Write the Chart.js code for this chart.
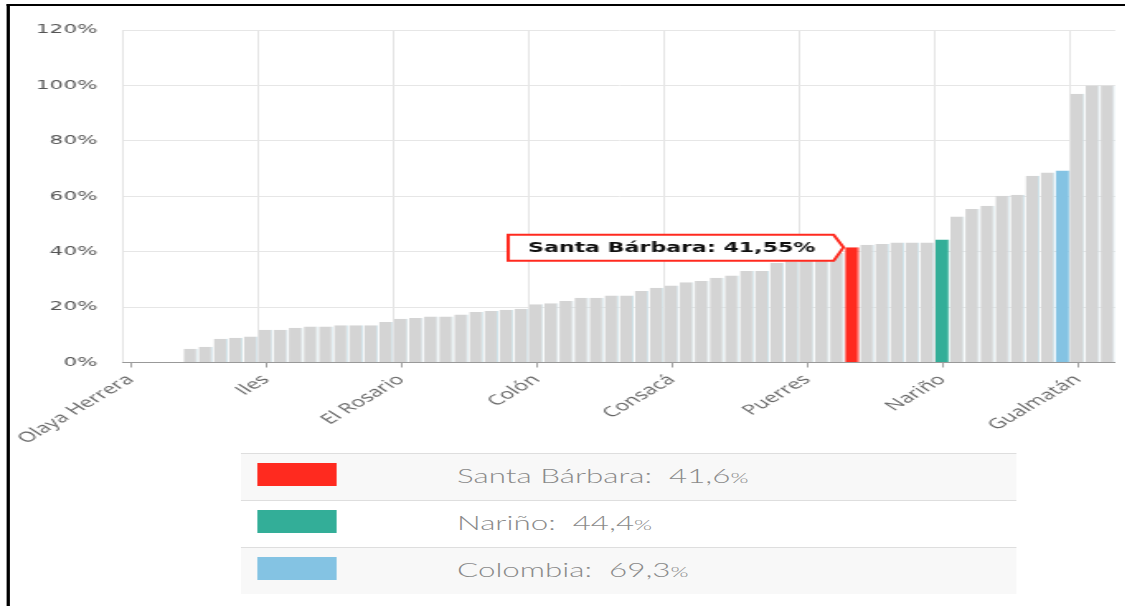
<!DOCTYPE html>
<html>
<head>
<meta charset="utf-8">
<script src="https://cdn.jsdelivr.net/npm/chart.js@4.4.0/dist/chart.umd.min.js"></script>
<style>
  html, body { margin: 0; padding: 0; background: #fff; overflow: hidden; }
  /* the reference is stretched sideways, so the whole page is drawn narrow and scaled */
  #stage { position: absolute; left: 0; top: 0; width: 682px; height: 606px; transform: scaleX(1.65); transform-origin: 0 0; }
  #frame { position: absolute; left: 4px; top: 4px; width: 700px; height: 620px; border-top: 2px solid #000; border-left: 2px solid #000; }
  #chart { position: absolute; left: 0; top: 0; }
  #legend { position: absolute; left: 145.5px; top: 453px; width: 470px; font-family: Lato, 'Open Sans', sans-serif; }
  .row { position: relative; height: 46px; border-top: 1px solid #dedede; background: #f8f8f8; }
  .row.plain { background: #fff; }
  .swatch { position: absolute; left: 10px; top: 9px; width: 48px; height: 23px; }
  .label { position: absolute; left: 131.5px; top: 0; line-height: 44px; font-size: 19px; font-weight: 300; color: #8a8a8a; white-space: pre; }
  .label small { font-size: 14px; }
</style>
</head>
<body>
<div id="stage">
  <div id="frame"></div>
  <canvas id="chart" width="692" height="450"></canvas>
  <div id="legend"></div>
</div>
<script>
//---------------------------------------------------------------------//
//-----------------------------DATA ZONE-------------------------------//
//---------------------------------------------------------------------//
const categories = [
    'Olaya Herrera', 'La Tola', 'Mosquera', 'El Charco', 'Francisco Pizarro', 'Magüí', 'Roberto Payán', 'Barbacoas', 'Cumbitara',
    'Iles', 'Policarpa', 'Leiva', 'Tumaco', 'Ricaurte', 'Mallama', 'Los Andes', 'La Llanada', 'Samaniego',
    'El Rosario', 'Taminango', 'San Lorenzo', 'El Tablón de Gómez', 'Arboleda', 'San Bernardo', 'Albán', 'Cuaspud', 'Providencia',
    'Colón', 'La Cruz', 'San Pablo', 'Belén', 'Funes', 'Linares', 'Ancuya', 'San Pedro de Cartago', 'Buesaco',
    'Consacá', 'El Peñol', 'El Tambo', 'Chachagüí', 'Guaitarilla', 'Imués', 'Córdoba', 'Potosí', 'Santacruz',
    'Puerres', 'Cumbal', 'Tangua', 'Santa Bárbara', 'Guachucal', 'Sapuyes', 'Contadero', 'La Unión', 'Nariño (municipio)',
    'Nariño', 'Yacuanquer', 'Sandoná', 'La Florida', 'Aldana', 'Ospina', 'Pupiales', 'Túquerres', 'Colombia',
    'Gualmatán', 'Ipiales', 'Pasto'
];
const values = [
    0, 0, 0, 0, 5.0, 5.7, 8.6, 8.9, 9.4,
    11.8, 11.8, 12.5, 13.0, 13.0, 13.4, 13.4, 13.4, 14.6,
    15.8, 16.1, 16.6, 16.6, 17.3, 18.2, 18.6, 19.0, 19.4,
    21.0, 21.4, 22.2, 23.4, 23.4, 24.2, 24.2, 25.8, 27.0,
    27.8, 29.0, 29.4, 30.6, 31.4, 33.0, 33.0, 36.0, 36.5,
    37.5, 38.5, 39.5, 41.55, 42.5, 42.8, 43.3, 43.3, 43.3,
    44.4, 52.7, 55.4, 56.6, 60.2, 60.5, 67.4, 68.6, 69.3,
    97.0, 100, 100
];
const yTicks = [0, 20, 40, 60, 80, 100, 120];
const highlightNames = ['Santa Bárbara', 'Nariño', 'Colombia'];
const highlightValues = [41.6, 44.4, 69.3];
const highlightColors = ['#ff2a1f', '#33ae98', '#84c3e3'];
const calloutName = 'Santa Bárbara';
const labelEvery = 9;

//---------------------------------------------------------------------//
//---------------------------PLUGINS ZONE------------------------------//
//---------------------------------------------------------------------//
// small tick marks under the labelled categories
const centerTicks = {
    id: 'centerTicks',
    afterDraw(chart) {
        const ctx = chart.ctx;
        const x = chart.scales.x;
        ctx.save();
        ctx.strokeStyle = '#a0a0a0';
        ctx.lineWidth = 1;
        for (let i = 0; i < categories.length; i += labelEvery) {
            const px = Math.round(x.getPixelForValue(i)) + 0.5;
            ctx.beginPath();
            ctx.moveTo(px, x.top);
            ctx.lineTo(px, x.top + 5);
            ctx.stroke();
        }
        ctx.restore();
    }
};

// tag shaped label pointing at the highlighted bar
const callout = {
    id: 'callout',
    afterDatasetsDraw(chart) {
        const idx = categories.indexOf(calloutName);
        const bar = chart.getDatasetMeta(0).data[idx];
        const ctx = chart.ctx;
        const text = calloutName + ': ' + values[idx].toFixed(2).replace('.', ',') + '%';
        ctx.save();
        ctx.font = 'bold 13.4px "DejaVu Sans"';
        const tipX = bar.x - bar.width / 2 - 1;
        const tipY = bar.y;
        const right = tipX - 6;
        const left = right - ctx.measureText(text).width - 23;
        const top = tipY - 12.5;
        const bottom = tipY + 13.5;
        ctx.beginPath();
        ctx.moveTo(left, top);
        ctx.lineTo(right, top);
        ctx.lineTo(tipX, tipY);
        ctx.lineTo(right, bottom);
        ctx.lineTo(left, bottom);
        ctx.closePath();
        ctx.fillStyle = '#fff';
        ctx.fill();
        ctx.strokeStyle = '#ff2a1f';
        ctx.lineWidth = 2;
        ctx.stroke();
        ctx.fillStyle = '#111';
        ctx.textBaseline = 'middle';
        ctx.fillText(text, left + 12, (top + bottom) / 2 + 0.5);
        ctx.restore();
    }
};

//---------------------------------------------------------------------//
//----------------------------CHART ZONE-------------------------------//
//---------------------------------------------------------------------//
function barColor(name, fallback) {
    const h = highlightNames.indexOf(name);
    return h >= 0 ? highlightColors[h] : fallback;
}

function drawChart() {
    const ctx = document.getElementById('chart').getContext('2d');
    new Chart(ctx, {
        type: 'bar',
        data: {
            labels: categories,
            datasets: [{
                data: values,
                backgroundColor: categories.map(n => barColor(n, '#d4d4d4')),
                borderColor: categories.map(n => barColor(n, '#cfe3ea')),
                borderWidth: { right: 1 },
                borderSkipped: false,
                barPercentage: 0.93,
                categoryPercentage: 1
            }]
        },
        options: {
            responsive: false,
            devicePixelRatio: 1,
            animation: false,
            layout: { padding: { top: 30, right: 0, left: 0, bottom: 0 } },
            plugins: { legend: { display: false }, tooltip: { enabled: false } },
            scales: {
                x: {
                    afterFit: s => { s.height = 87.5; },
                    grid: {
                        offset: true,
                        drawTicks: false,
                        color: c => (c.index % labelEvery === 0 && c.index < categories.length) ? '#e4e4e4' : 'rgba(0,0,0,0)'
                    },
                    border: { color: '#999', width: 1 },
                    ticks: {
                        autoSkip: false,
                        maxRotation: 44,
                        minRotation: 44,
                        padding: 9,
                        color: '#666',
                        font: { family: 'Open Sans', size: 14 },
                        callback: function (v, i) { return i % labelEvery === 0 ? this.getLabelForValue(v) : ''; }
                    }
                },
                y: {
                    min: yTicks[0],
                    max: yTicks[yTicks.length - 1],
                    afterFit: s => { s.width = 74.5; },
                    afterBuildTicks: s => { s.ticks = yTicks.map(v => ({ value: v })); },
                    grid: { color: '#e6e6e6', drawTicks: false },
                    border: { display: false },
                    ticks: {
                        padding: 15.5,
                        color: '#555',
                        font: { family: 'DejaVu Sans', size: 13 },
                        callback: v => v + '%'
                    }
                }
            }
        },
        plugins: [centerTicks, callout]
    });
}

function drawLegend() {
    const box = document.getElementById('legend');
    highlightNames.forEach((name, i) => {
        const row = document.createElement('div');
        row.className = i === 1 ? 'row plain' : 'row';
        row.innerHTML = `<div class="swatch" style="background:${highlightColors[i]}"></div>` +
            `<div class="label">${name}:  ${highlightValues[i].toFixed(1).replace('.', ',')}<small>%</small></div>`;
        box.appendChild(row);
    });
}

drawChart();
drawLegend();
</script>
</body>
</html>
